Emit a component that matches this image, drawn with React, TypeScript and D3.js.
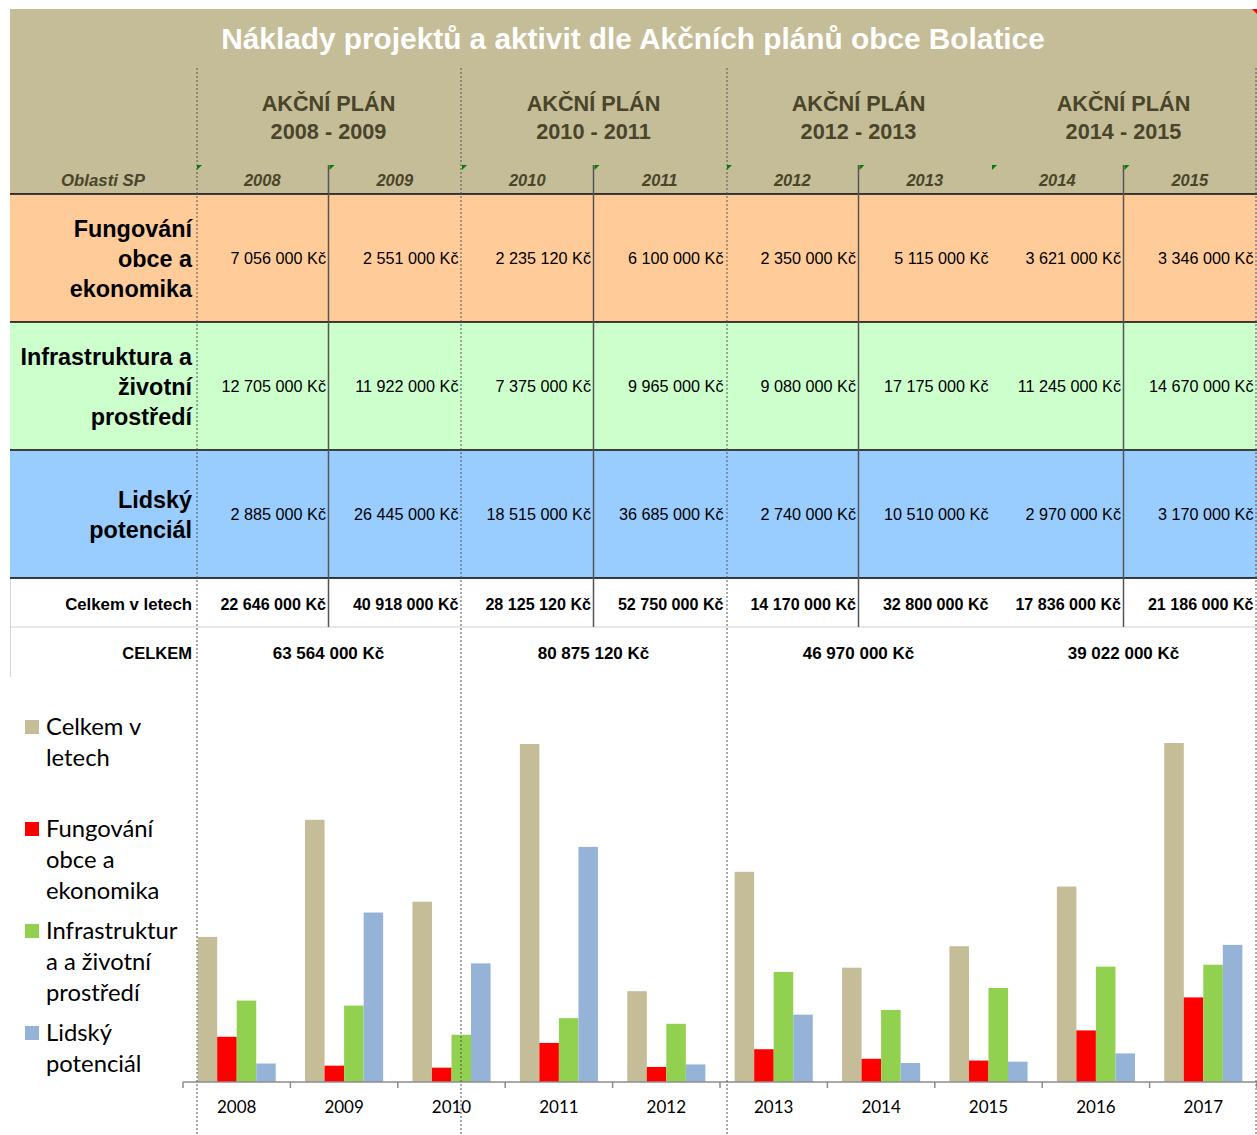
import React, { useEffect, useRef } from "react";
import * as d3 from "d3";

// table data (Kč)
const years = ["2008", "2009", "2010", "2011", "2012", "2013", "2014", "2015"];
const plans = ["2008 - 2009", "2010 - 2011", "2012 - 2013", "2014 - 2015"];
const fungovani = [7056000, 2551000, 2235120, 6100000, 2350000, 5115000, 3621000, 3346000];
const infrastruktura = [12705000, 11922000, 7375000, 9965000, 9080000, 17175000, 11245000, 14670000];
const lidsky = [2885000, 26445000, 18515000, 36685000, 2740000, 10510000, 2970000, 3170000];
const celkemVLetech = [22646000, 40918000, 28125120, 52750000, 14170000, 32800000, 17836000, 21186000];
const celkemPlan = [63564000, 80875120, 46970000, 39022000];

// chart data (2016, 2017)
const chartYears = ["2008", "2009", "2010", "2011", "2012", "2013", "2014", "2015", "2016", "2017"];
const chartCelkem = [22646000, 40918000, 28125120, 52750000, 14170000, 32800000, 17836000, 21186000, 30500000, 52900000];
const chartFung = [7056000, 2551000, 2235120, 6100000, 2350000, 5115000, 3621000, 3346000, 8050000, 13200000];
const chartInfra = [12705000, 11922000, 7375000, 9965000, 9080000, 17175000, 11245000, 14670000, 18000000, 18300000];
const chartLidsky = [2885000, 26445000, 18515000, 36685000, 2740000, 10510000, 2970000, 3170000, 4460000, 21400000];
const seriesNames = ["Celkem v letech", "Fungování obce a ekonomika", "Infrastruktura a životní prostředí", "Lidský potenciál"];
const legendLines = [["Celkem v", "letech"], ["Fungování", "obce a", "ekonomika"], ["Infrastruktur", "a a životní", "prostředí"], ["Lidský", "potenciál"]];
const seriesColors = ["#C4BD97", "#FF0000", "#92D050", "#95B3D7"];

const fmt = (v: number) => d3.format(",")(v).replace(/,/g, " ") + " Kč";

export default function App() {
  const ref = useRef<SVGSVGElement>(null);

  useEffect(() => {
    const svg = d3.select(ref.current).html(null);
    const arial = "'Liberation Sans', Arial, sans-serif";
    const hdrText = "#4A452A";

    const left = 10, right = 1257;
    const col = d3.scaleBand().domain(years).range([197, right]);
    const pair = d3.scaleBand().domain(plans).range([197, right]);

    // header
    svg.append("rect").attr("x", left).attr("y", 9).attr("width", right - left).attr("height", 185).attr("fill", "#C4BD97");
    svg.append("text").attr("x", 633).attr("y", 39).attr("dy", "0.35em").attr("text-anchor", "middle")
      .attr("font-family", arial).attr("font-weight", "bold").attr("font-size", 29.8).attr("fill", "#fff")
      .text("Náklady projektů a aktivit dle Akčních plánů obce Bolatice");

    plans.forEach((p) => {
      const cx = (pair(p) as number) + pair.bandwidth() / 2;
      const t = svg.append("text").attr("text-anchor", "middle").attr("font-family", arial)
        .attr("font-weight", "bold").attr("font-size", 21.7).attr("fill", hdrText);
      t.append("tspan").attr("x", cx - 1).attr("y", 103).attr("dy", "0.35em").text("AKČNÍ PLÁN");
      t.append("tspan").attr("x", cx - 1).attr("y", 131).attr("dy", "0.35em").text(p);
    });

    svg.append("text").attr("x", 103).attr("y", 180).attr("dy", "0.35em").attr("text-anchor", "middle")
      .attr("font-family", arial).attr("font-weight", "bold").attr("font-style", "italic")
      .attr("font-size", 16.8).attr("fill", hdrText).text("Oblasti SP");

    svg.append("g").selectAll("text").data(years).join("text")
      .attr("x", (d) => (col(d) as number) + col.bandwidth() / 2 - 1).attr("y", 180).attr("dy", "0.35em")
      .attr("text-anchor", "middle").attr("font-family", arial).attr("font-weight", "bold")
      .attr("font-style", "italic").attr("font-size", 16.5).attr("fill", hdrText).text((d) => d);

    // coloured rows
    const rows = [
      { label: ["Fungování", "obce a", "ekonomika"], values: fungovani, fill: "#FFCC99", y: 195 },
      { label: ["Infrastruktura a", "životní", "prostředí"], values: infrastruktura, fill: "#CCFFCC", y: 323 },
      { label: ["Lidský", "potenciál"], values: lidsky, fill: "#99CCFF", y: 451 },
    ];
    const rowH = 127;
    rows.forEach((r) => {
      svg.append("rect").attr("x", left).attr("y", r.y).attr("width", right - left).attr("height", rowH).attr("fill", r.fill);
      const cy = r.y + rowH / 2;
      const lab = svg.append("text").attr("text-anchor", "end").attr("font-family", arial)
        .attr("font-weight", "bold").attr("font-size", 23.4).attr("fill", "#000");
      r.label.forEach((l, i) => {
        lab.append("tspan").attr("x", 192).attr("y", cy + (i - (r.label.length - 1) / 2) * 30).attr("dy", "0.35em").text(l);
      });
      svg.append("g").selectAll("text").data(r.values).join("text")
        .attr("x", (d, i) => (col(years[i]) as number) + col.bandwidth() - 3.5).attr("y", cy).attr("dy", "0.35em")
        .attr("text-anchor", "end").attr("font-family", arial).attr("font-size", 16.2).attr("fill", "#000")
        .text((d) => fmt(d));
    });

    // totals
    svg.append("text").attr("x", 192).attr("y", 604).attr("dy", "0.35em").attr("text-anchor", "end")
      .attr("font-family", arial).attr("font-weight", "bold").attr("font-size", 16.8).text("Celkem v letech");
    svg.append("g").selectAll("text").data(celkemVLetech).join("text")
      .attr("x", (d, i) => (col(years[i]) as number) + col.bandwidth() - 3.5).attr("y", 604).attr("dy", "0.35em")
      .attr("text-anchor", "end").attr("font-family", arial).attr("font-weight", "bold").attr("font-size", 16.1)
      .text((d) => fmt(d));
    svg.append("text").attr("x", 192).attr("y", 653).attr("dy", "0.35em").attr("text-anchor", "end")
      .attr("font-family", arial).attr("font-weight", "bold").attr("font-size", 16.5).text("CELKEM");
    svg.append("g").selectAll("text").data(celkemPlan).join("text")
      .attr("x", (d, i) => (pair(plans[i]) as number) + pair.bandwidth() / 2 - 1).attr("y", 653).attr("dy", "0.35em")
      .attr("text-anchor", "middle").attr("font-family", arial).attr("font-weight", "bold").attr("font-size", 17)
      .text((d) => fmt(d));

    // table lines
    [194, 322, 450, 578].forEach((y) => {
      svg.append("line").attr("x1", left).attr("x2", right).attr("y1", y).attr("y2", y).attr("stroke", "#000").attr("stroke-width", 1.5);
    });
    svg.append("line").attr("x1", left).attr("x2", right).attr("y1", 627).attr("y2", 627).attr("stroke", "#d4d4d4");
    svg.append("line").attr("x1", left + 0.5).attr("x2", left + 0.5).attr("y1", 579).attr("y2", 677).attr("stroke", "#d4d4d4");
    plans.forEach((p) => {
      const x = (pair(p) as number) + pair.bandwidth() / 2 - 1;
      svg.append("line").attr("x1", x).attr("x2", x).attr("y1", 165).attr("y2", 627).attr("stroke", "#555").attr("stroke-width", 1.5);
    });
    // comment markers
    svg.append("g").selectAll("path").data(years).join("path")
      .attr("d", (d) => { const x = col(d) as number; return `M${x},165L${x + 5},165L${x},170Z`; })
      .attr("fill", "#008000");
    svg.append("path").attr("d", `M${right - 5},9L${right},9L${right},14Z`).attr("fill", "#FF0000");

    // chart
    const base = 1082;
    const x0 = d3.scaleBand().domain(chartYears).range([183, right]);
    const x1 = d3.scaleBand().domain(seriesNames).range([0, x0.bandwidth()]).paddingOuter(0.75);
    const y = d3.scaleLinear().domain([0, 60000000]).range([base, base - 384.5]);
    const series = [chartCelkem, chartFung, chartInfra, chartLidsky];

    const groups = svg.append("g").selectAll("g").data(chartYears).join("g")
      .attr("transform", (d) => `translate(${x0(d)},0)`);
    groups.selectAll("rect").data((d, i) => series.map((s, k) => ({ k, v: s[i] }))).join("rect")
      .attr("x", (d) => x1(seriesNames[d.k]) as number).attr("width", x1.bandwidth())
      .attr("y", (d) => y(d.v)).attr("height", (d) => base - y(d.v))
      .attr("fill", (d) => seriesColors[d.k]);

    const axis = svg.append("g").attr("transform", `translate(0,${base})`)
      .call(d3.axisBottom(x0).tickSize(0).tickPadding(0));
    axis.select(".domain").remove();
    axis.selectAll(".tick text").attr("y", 19).attr("font-family", "Lato, 'Open Sans', sans-serif")
      .attr("font-size", 17).attr("fill", "#000");
    svg.append("line").attr("x1", 183).attr("x2", right).attr("y1", base).attr("y2", base).attr("stroke", "#8c8c8c").attr("stroke-width", 1.5);
    svg.append("g").selectAll("line").data([...chartYears.map((d) => x0(d) as number), right]).join("line")
      .attr("x1", (d) => d).attr("x2", (d) => d).attr("y1", base).attr("y2", base + 6)
      .attr("stroke", "#8c8c8c").attr("stroke-width", 1.5);

    // legend
    const legY = [727, 829, 931, 1033];
    legendLines.forEach((lines, k) => {
      svg.append("rect").attr("x", 25).attr("y", legY[k] - 7).attr("width", 14).attr("height", 14).attr("fill", seriesColors[k]);
      const t = svg.append("text").attr("font-family", "Lato, 'Open Sans', sans-serif").attr("font-size", 23.8).attr("fill", "#000");
      lines.forEach((l, i) => {
        t.append("tspan").attr("x", 46).attr("y", legY[k] + i * 31).attr("dy", "0.35em").text(l);
      });
    });

    // page-break dotted lines
    [197, 461, 727, right - 1].forEach((x) => {
      svg.append("line").attr("x1", x).attr("x2", x).attr("y1", 68).attr("y2", 1135)
        .attr("stroke", "#555").attr("stroke-width", 1).attr("stroke-dasharray", "2,2");
    });
  });

  return (
    <svg ref={ref} width={1257} height={1135}
      style={{ position: "absolute", left: 0, top: 0, background: "#fff" }} />
  );
}
